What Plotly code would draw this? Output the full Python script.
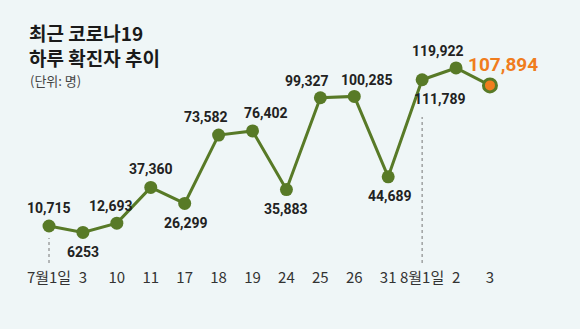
import plotly.graph_objects as go

# Daily confirmed COVID-19 cases
dates = ["7월1일", "3", "10", "11", "17", "18", "19", "24", "25", "26", "31", "8월1일", "2", "3"]
cases = [10715, 6253, 12693, 37360, 26299, 73582, 76402, 35883, 99327, 100285, 44689, 111789, 119922, 107894]
title_lines = ["최근 코로나19", "하루 확진자 추이"]
unit_note = "(단위: 명)"

# label offsets (px) relative to each point
label_dx = [0, 0, -6, 0, 1, -13, 13, 0, -13, 13, 2, 18, -18, 13]
label_dy = [18, -20, 17, 18, -20, 18, 18, -19, 17, 16, -19, -19, 17, 21]

x = list(range(len(cases)))
green = "#587a27"
orange = "#f07d1e"
bg = "#eff6f7"
num_font = "Roboto, Liberation Sans Narrow, sans-serif"
kr_font = "Noto Sans CJK KR, Noto Sans, sans-serif"

# plot area in pixels: top 40, bottom 265
PT, PB = 40, 265


def py(pixel):
    """Paper y for a pixel row measured from the top of the figure."""
    return (PB - pixel) / (PB - PT)


fig = go.Figure()

fig.add_trace(go.Scatter(
    x=x, y=cases, mode="lines+markers",
    line=dict(color=green, width=3),
    marker=dict(size=13, color=[green] * (len(cases) - 1) + [orange],
                line=dict(color=green, width=[0] * (len(cases) - 1) + [3])),
    hoverinfo="skip", showlegend=False,
))

# dotted guide lines under the first day of each month
for i, gap in ((0, 8300), (11, 25750)):
    fig.add_shape(type="line", x0=x[i], x1=x[i], xref="x", yref="y",
                  y0=-14858, y1=cases[i] - gap,
                  line=dict(color="#777777", width=1, dash="dot"))

for i, v in enumerate(cases):
    last = i == len(cases) - 1
    fig.add_annotation(
        x=x[i], y=v, text=f"{v:,}" if v >= 10000 else str(v),
        showarrow=False, xshift=label_dx[i], yshift=label_dy[i],
        font=dict(family=num_font, size=19 if last else 14,
                  color=orange if last else "#222222", weight="bold"),
    )

fig.add_annotation(xref="paper", yref="paper", x=28 / 580, y=py(18),
                   xanchor="left", yanchor="top", showarrow=False, align="left",
                   borderpad=0, text="<br>".join(title_lines),
                   font=dict(family=kr_font, size=19, color="#1a1a1a", weight="bold"))
fig.add_annotation(xref="paper", yref="paper", x=28 / 580, y=py(81),
                   xanchor="left", yanchor="middle", showarrow=False,
                   text=unit_note,
                   font=dict(family=kr_font, size=13, color="#444444"))

fig.update_layout(
    width=580, height=329,
    margin=dict(l=0, r=0, t=PT, b=329 - PB),
    paper_bgcolor=bg, plot_bgcolor=bg,
    xaxis=dict(range=[-49 / 33.92, (580 - 49) / 33.92], tickvals=x, ticktext=dates,
               showgrid=False, zeroline=False, showline=False, ticklabelstandoff=2,
               tickfont=dict(family=kr_font, size=15, color="#333333")),
    yaxis=dict(range=[-16240, 139254], visible=False),
)

fig.write_html("out.html")
